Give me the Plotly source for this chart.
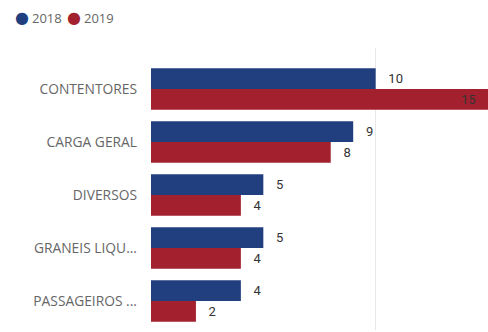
import plotly.graph_objects as go

# Cargo categories and yearly counts
categories = ["CONTENTORES", "CARGA GERAL", "DIVERSOS", "GRANEIS LIQU...", "PASSAGEIROS ..."]
values_2018 = [10, 9, 5, 5, 4]
values_2019 = [15, 8, 4, 4, 2]

series = [
    ("2018", values_2018, "#213F7F"),
    ("2019", values_2019, "#A3212F"),
]

x_max = max(values_2018 + values_2019)

L, R, T, B = 151, 0, 48, 2
W, H = 488, 332
plot_w = W - L - R
plot_h = H - T - B

value_font = dict(family="Roboto", size=13, color="#333333")

fig = go.Figure()
for name, vals, color in series:
    # Labels sit outside the bar unless the bar reaches the end of the axis
    positions = ["inside" if v >= x_max else "outside" for v in vals]
    texts = [f"{v}   " if v >= x_max else f"   {v}" for v in vals]
    fig.add_trace(go.Bar(
        name=name,
        y=categories,
        x=vals,
        orientation="h",
        marker=dict(color=color, line=dict(width=0)),
        text=texts,
        textposition=positions,
        insidetextanchor="end",
        textfont=value_font,
        insidetextfont=value_font,
        outsidetextfont=value_font,
        cliponaxis=False,
        showlegend=False,
    ))

# Legend: a coloured dot followed by the series name, laid out left to right
def px_x(px):
    return (px - L) / plot_w

def px_y(py):
    return (H - B - py) / plot_h

legend_left = 16
item_step = 52
for i, (name, vals, color) in enumerate(series):
    x0 = legend_left + i * item_step
    fig.add_annotation(
        xref="paper", yref="paper", x=px_x(x0 + 6), y=px_y(17),
        xanchor="center", yanchor="middle", showarrow=False,
        text="●", font=dict(family="DejaVu Sans", size=16, color=color),
    )
    fig.add_annotation(
        xref="paper", yref="paper", x=px_x(x0 + 14), y=px_y(18),
        xanchor="left", yanchor="middle", showarrow=False,
        text=name, font=dict(family="Open Sans", size=13, color="#666666"),
    )

fig.update_layout(
    width=W, height=H,
    margin=dict(l=L, r=R, t=T, b=B),
    plot_bgcolor="white", paper_bgcolor="white",
    barmode="group", bargap=0.22, bargroupgap=0.0,
)
fig.update_xaxes(
    range=[0, x_max], dtick=10, showgrid=True, gridcolor="#E8E8E8", gridwidth=1,
    zeroline=False, showticklabels=False, showline=False, fixedrange=True,
)
fig.update_yaxes(
    type="category", categoryorder="array", categoryarray=categories,
    range=[len(categories) - 1 + 0.547, -0.774],
    showgrid=False, zeroline=False, showline=False, ticks="",
    ticklabelstandoff=13,
    tickfont=dict(family="Open Sans", size=13.8, color="#666666"),
)

fig.write_html("out.html")
